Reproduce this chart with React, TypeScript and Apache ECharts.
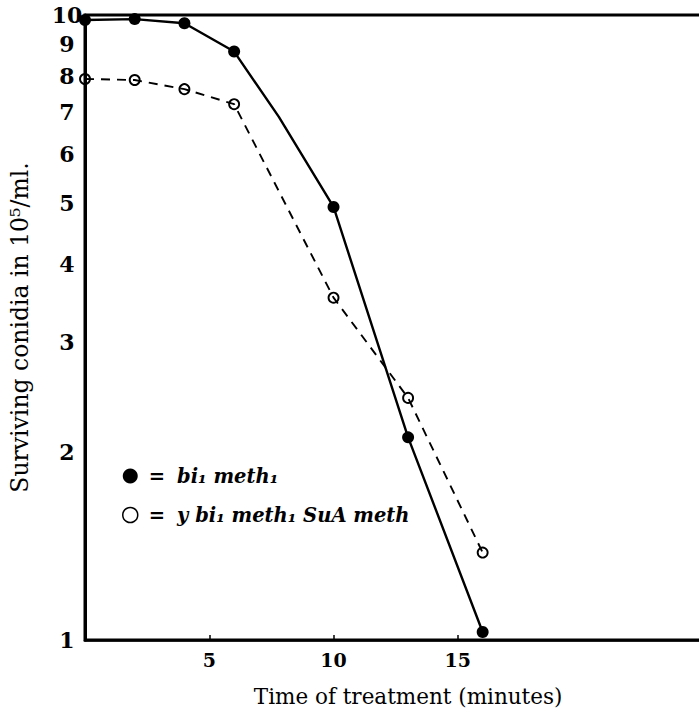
import React, { useEffect, useRef } from "react";
import * as echarts from "echarts";

// Time of treatment (minutes)
const filledTimes = [0, 2, 4, 6, 7.8, 10, 13, 16];
// Surviving conidia (10^5/ml) for bi1 meth1; 7.8 min is a bend of the drawn line (no mark)
const filledCounts = [9.82, 9.85, 9.7, 8.74, 6.87, 4.93, 2.11, 1.03];
const filledMarked = [true, true, true, true, false, true, true, true];

const openTimes = [0, 2, 4, 6, 10, 13, 16];
const openCounts = [7.9, 7.87, 7.61, 7.2, 3.53, 2.44, 1.38];

const yTicks = [1, 2, 3, 4, 5, 6, 7, 8, 9, 10];
const xTicks = [5, 10, 15];

const seriesNames = ["bi\u2081 meth\u2081", "y bi\u2081 meth\u2081 SuA meth"];
const xTitle = "Time of treatment (minutes)";
const yTitle = "Surviving conidia in 10\u2075/ml.";

const FONT = "DejaVu Serif";

export default function App() {
  const ref = useRef<HTMLDivElement>(null);
  useEffect(() => {
    if (!ref.current) return;
    const chart = echarts.init(ref.current, undefined, { renderer: "svg" });
    const logTicks = yTicks.map((v) => Math.log10(v));
    const labelFor = (v: number) => {
      for (const t of yTicks) if (Math.abs(Math.log10(t) - v) < 1e-6) return String(t);
      return "";
    };
    chart.setOption({
      animation: false,
      backgroundColor: "#fff",
      grid: {
        left: 76,
        top: 15,
        right: 8.8,
        bottom: 73,
        show: true,
        borderColor: "#000",
        borderWidth: 3,
        backgroundColor: "transparent",
      },
      legend: {
        orient: "vertical",
        left: 117,
        top: 461,
        icon: "circle",
        itemWidth: 15,
        itemHeight: 15,
        itemGap: 19,
        data: [
          { name: seriesNames[0], itemStyle: { color: "#000", borderWidth: 0 } },
          { name: seriesNames[1], itemStyle: { color: "#fff", borderColor: "#000", borderWidth: 1.5 } },
        ],
        formatter: (name: string) => `{eq|=}{t|${name}}`,
        textStyle: {
          fontFamily: FONT,
          fontStyle: "italic",
          fontWeight: "bold",
          fontSize: 19.5,
          color: "#000",
          padding: [0, 0, 0, 6],
          rich: {
            eq: { fontFamily: FONT, fontSize: 19.5, fontWeight: "bold", color: "#000", padding: [0, 12, 0, 0] },
            t: { fontFamily: FONT, fontSize: 19.5, fontStyle: "italic", fontWeight: "bold", color: "#000" },
          },
        },
      },
      xAxis: {
        type: "value",
        min: 0,
        max: 26,
        name: xTitle,
        nameLocation: "middle",
        nameGap: 45,
        nameTextStyle: { fontFamily: FONT, fontSize: 21.5, color: "#000" },
        axisLine: { show: true, lineStyle: { color: "#000", width: 2.5 } },
        axisTick: { show: true, inside: true, length: 5, customValues: xTicks, lineStyle: { color: "#000", width: 1.5 } },
        axisLabel: { customValues: xTicks, margin: 10, fontFamily: FONT, fontSize: 19, fontWeight: "bold", color: "#000" },
        splitLine: { show: false },
      },
      yAxis: {
        type: "value",
        min: 0,
        max: 1,
        name: yTitle,
        nameLocation: "middle",
        nameRotate: 90,
        nameGap: 53,
        nameTextStyle: { fontFamily: FONT, fontSize: 23.5, color: "#000" },
        axisLine: { show: true, lineStyle: { color: "#000", width: 3 } },
        axisTick: { show: false },
        axisLabel: {
          customValues: logTicks,
          formatter: labelFor,
          align: "center",
          margin: 18,
          fontFamily: FONT,
          fontSize: 22,
          fontWeight: "bold",
          color: "#000",
        },
        splitLine: { show: false },
      },
      series: [
        {
          name: seriesNames[0],
          type: "line",
          data: filledTimes.map((t, i) => ({
            value: [t, Math.log10(filledCounts[i])],
            symbol: filledMarked[i] ? "circle" : "none",
          })),
          symbol: "circle",
          symbolSize: 12,
          itemStyle: { color: "#000" },
          lineStyle: { color: "#000", width: 2.4 },
          z: 3,
        },
        {
          name: seriesNames[1],
          type: "line",
          data: openTimes.map((t, i) => [t, Math.log10(openCounts[i])]),
          symbol: "circle",
          symbolSize: 10,
          itemStyle: { color: "transparent", borderColor: "#000", borderWidth: 1.9 },
          lineStyle: { color: "#000", width: 1.9, type: [9, 7] },
          z: 2,
        },
      ],
    });
    return () => chart.dispose();
  }, []);
  return (
    <div style={{ position: "fixed", left: 0, top: 0, width: 699, height: 713, overflow: "hidden", background: "#fff" }}>
      <div ref={ref} style={{ width: 740, height: 713 }} />
    </div>
  );
}
